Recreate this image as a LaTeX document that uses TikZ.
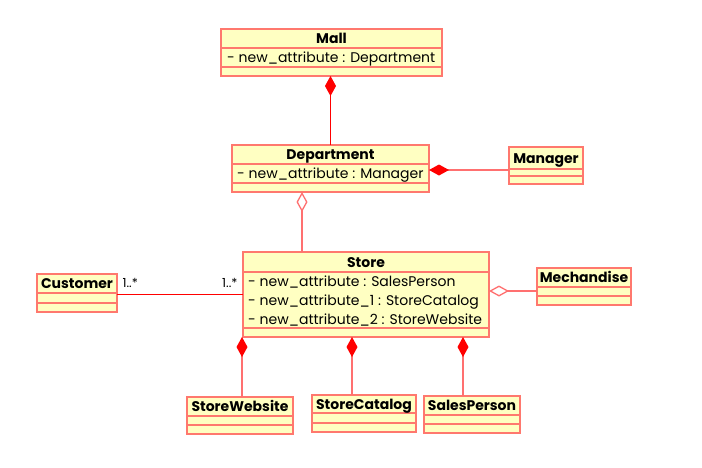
\documentclass[tikz,border=0pt]{standalone}
\usepackage{fontspec}
\setmainfont{Poppins}
\usetikzlibrary{arrows.meta}
\definecolor{umlborder}{RGB}{255,120,110}
\definecolor{umlfill}{RGB}{255,255,194}
\definecolor{umlline}{RGB}{255,112,112}
\definecolor{umlred}{RGB}{255,0,0}
\newcommand\umlclass[5]{\node[cls, minimum width=#4, minimum height=#5] (#1) at (#2,#3) {};}
\begin{document}
\begin{tikzpicture}[x=1pt,y=-1pt,
  cls/.style={draw=umlborder, fill=umlfill, line width=2pt, inner sep=0pt, outer sep=0pt},
  divider/.style={draw=umlborder, line width=1.6pt},
  title/.style={font=\fontsize{14}{16}\selectfont\bfseries, text height=10pt, text depth=3pt, inner sep=0pt, yshift=-1.5pt},
  attr/.style={font=\fontsize{14}{16}\selectfont, anchor=west, text height=10pt, text depth=3pt, inner sep=0pt, yshift=-1.5pt},
  mult/.style={font=\fontsize{12.5}{14}\selectfont, inner sep=0pt},
  thinred/.style={draw=umlred, line width=1pt},
  lightline/.style={draw=umlline, line width=1.8pt},
  compend/.style={{Diamond[length=20pt,width=11pt,fill=umlred,color=umlred]}-},
  aggend/.style={{Diamond[open,length=20pt,width=11pt,color=umlline,line width=1.3pt]}-}
]
\useasboundingbox (0,0) rectangle (702,467);
\fill[white] (0,0) rectangle (702,467);

% classes
\umlclass{mall}{331.5}{52.5}{221}{47}
\umlclass{dept}{330.5}{168.5}{197}{47}
\umlclass{manager}{546}{165.5}{74}{37}
\umlclass{store}{366}{294.5}{246}{85}
\umlclass{mech}{584}{286.5}{94}{37}
\umlclass{customer}{77}{293}{80}{38}
\umlclass{website}{240}{415.5}{106}{37}
\umlclass{catalog}{364}{413.5}{104}{37}
\umlclass{sales}{472}{414.5}{96}{37}

% dividers
\foreach \n/\ya/\yb in {mall/48/67, dept/164/183, manager/169/176, store/272/328, mech/287/296, customer/293/303, website/416/425, catalog/413/423, sales/415/424}{
  \draw[divider] (\n.west |- 0,\ya) -- (\n.east |- 0,\ya);
  \draw[divider] (\n.west |- 0,\yb) -- (\n.east |- 0,\yb);
}

% texts
\node[title] (tmall) at (331.5,38.5) {Mall};
\node[attr] (amall) at (227,57.5) {- new\_attribute : Department};
\node[title] (tdept) at (330.5,154.5) {Department};
\node[attr] (adept) at (237,173.5) {- new\_attribute : Manager};
\node[title] (tmanager) at (546,158) {Manager};
\node[title] (tstore) at (366,262) {Store};
\node[attr] (astore1) at (248,281) {- new\_attribute : SalesPerson};
\node[attr] (astore2) at (248,300) {- new\_attribute\_1 : StoreCatalog};
\node[attr] (astore3) at (248,319) {- new\_attribute\_2 : StoreWebsite};
\node[title] (tmech) at (584,277.5) {Mechandise};
\node[title] (tcustomer) at (77,283.5) {Customer};
\node[title] (twebsite) at (240,406.5) {StoreWebsite};
\node[title] (tcatalog) at (364,404) {StoreCatalog};
\node[title] (tsales) at (472,405.5) {SalesPerson};

% connectors
\draw[thinred, compend] (dept.north |- mall.south) -- (dept.north);
\draw[lightline, compend] (dept.east |- 0,170) -- (manager.west |- 0,170);
\draw[lightline, aggend] (302,0 |- dept.south) -- (302,0 |- store.north);
\draw[thinred] (customer.east |- 0,294) -- node[mult, pos=0, anchor=south west, xshift=5pt, yshift=6pt] (m1) {1..*} node[mult, pos=1, anchor=south east, xshift=-5pt, yshift=6pt] (m2) {1..*} (store.west |- 0,294);
\draw[lightline, aggend] (store.east |- 0,291) -- (mech.west |- 0,291);
\draw[lightline, compend] (242,0 |- store.south) -- (242,0 |- website.north);
\draw[lightline, compend] (352,0 |- store.south) -- (352,0 |- catalog.north);
\draw[lightline, compend] (463,0 |- store.south) -- (463,0 |- sales.north);
\end{tikzpicture}
\end{document}
